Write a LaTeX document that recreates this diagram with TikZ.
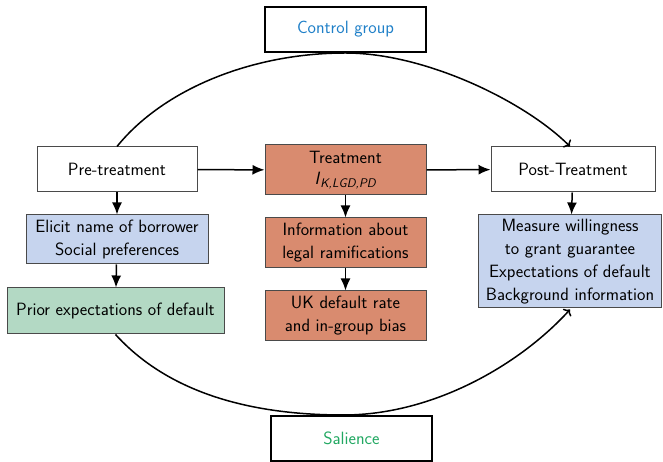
\documentclass[tikz,border=0pt]{standalone}
\usetikzlibrary{arrows.meta}
\definecolor{salmon}{HTML}{D98B6F}
\definecolor{paleblue}{HTML}{C6D4EE}
\definecolor{palegreen}{HTML}{B3D9C4}
\definecolor{ctrlblue}{HTML}{2080C8}
\definecolor{salgreen}{HTML}{22A862}
\definecolor{edgegray}{HTML}{4A4A4A}
\tikzset{
  txt/.style={font=\sffamily\fontsize{17.8}{23}\selectfont},
  box/.style={txt, draw=edgegray, line width=1pt, align=center, inner sep=0pt},
  framebox/.style={txt, draw=black, line width=2pt, align=center, inner sep=0pt,
    minimum width=161pt, minimum height=45pt},
  link/.style={line width=1.5pt, -{Latex[length=12pt,width=10pt]}},
  loop/.style={line width=1.5pt, -{To[length=5pt,width=11pt]}}
}
\begin{document}
\begin{tikzpicture}[x=1pt,y=1pt]
\useasboundingbox (0,0) rectangle (663,462);

% top and bottom labels
\node[framebox, text=ctrlblue] (ctrl) at (345.5,432.5) {Control group};
\node[framebox, text=salgreen] (sal) at (351.5,23.5) {Salience};

% main row
\node[box, minimum width=160pt, minimum height=45pt] (pre) at (117,292.5) {Pre-treatment};
\node[box, fill=salmon, minimum width=161pt, minimum height=50pt] (treat) at (345.5,292)
  {Treatment\\[-2pt]\textsl{I}\raisebox{-0.45ex}{\fontsize{12.5}{12.5}\selectfont\textsl{K,LGD,PD}}};
\node[box, minimum width=164pt, minimum height=45pt] (post) at (573,292.5) {Post-Treatment};

% left column
\node[box, fill=paleblue, minimum width=182pt, minimum height=49pt] (elicit) at (117,222.5)
  {Elicit name of borrower\\Social preferences};
\node[box, fill=palegreen, minimum width=217pt, minimum height=46pt] (prior) at (115.5,151)
  {Prior expectations of default};

% middle column
\node[box, fill=salmon, minimum width=161pt, minimum height=50pt] (info) at (345.5,219)
  {Information about\\legal ramifications};
\node[box, fill=salmon, minimum width=161pt, minimum height=50pt] (uk) at (345.5,146)
  {UK default rate\\and in-group bias};

% right column
\node[box, fill=paleblue, minimum width=183pt, minimum height=93pt] (measure) at (570,200.5)
  {Measure willingness\\to grant guarantee\\Expectations of default\\Background information};

% flow arrows
\draw[link] (pre) -- (treat);
\draw[link] (treat) -- (post);
\draw[link] (pre) -- (elicit);
\draw[link] (elicit) -- (prior);
\draw[link] (treat) -- (info);
\draw[link] (info) -- (uk);
\draw[link] (post) -- (measure);

% control path over the top
\coordinate (postin) at ([xshift=-3pt]post.north);
\draw[loop] (pre.north) .. controls +(46,57) and +(-94,0) .. (ctrl.south)
  .. controls +(80,0) and +(-45,45) .. (postin);
% salience path underneath
\coordinate (measin) at ([yshift=-1pt]measure.south);
\draw[loop] (prior.south) .. controls +(50,-55) and +(-100,0) .. ([xshift=-8pt]sal.north)
  .. controls +(90,0) and +(-50,-55) .. (measin);
\end{tikzpicture}
\end{document}
